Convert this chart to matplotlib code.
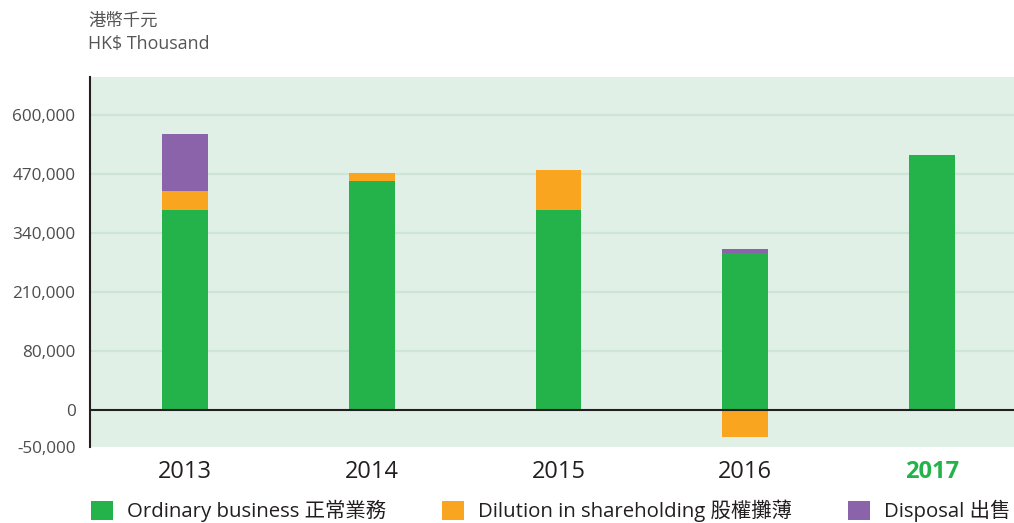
import matplotlib
matplotlib.use("Agg")
import matplotlib.pyplot as plt
from matplotlib.patches import Patch

plt.rcParams['font.family'] = ['Open Sans', 'Noto Sans CJK TC', 'DejaVu Sans']

years = ["2013", "2014", "2015", "2016", "2017"]
ordinary = [440700, 504600, 440700, 345900, 561900]
dilution = [41900, 17600, 88100, 0, 0]
dilution_neg = [0, 0, 0, -59500, 0]
disposal = [125600, 0, 0, 8800, 0]

series_names = ["Ordinary business 正常業務", "Dilution in shareholding 股權攤薄", "Disposal 出售"]
colors = ["#24b24b", "#f9a51f", "#8b63aa"]

ytick_pos = [-81500, 0, 130000, 260000, 390000, 520000, 650000]
ytick_labels = ["-50,000", "0", "80,000", "210,000", "340,000", "470,000", "600,000"]

W, H = 1014, 523
fig = plt.figure(figsize=(W / 100, H / 100), dpi=100)
ax = fig.add_axes([90 / W, (H - 447) / H, 937 / W, (447 - 77) / H])
ax.set_facecolor("#e1f0e6")

x = list(range(len(years)))
bw = 0.246
ax.bar(x, ordinary, bw, color=colors[0], zorder=3)
ax.bar(x, dilution, bw, bottom=ordinary, color=colors[1], zorder=3)
ax.bar(x, dilution_neg, bw, color=colors[1], zorder=3)
bottoms = [o + d for o, d in zip(ordinary, dilution)]
ax.bar(x, disposal, bw, bottom=bottoms, color=colors[2], zorder=3)

ax.set_xlim(-0.508, 4.508)
ax.set_ylim(-81500, 733700)
ax.set_yticks(ytick_pos)
ax.set_yticklabels(ytick_labels)
for gy in ytick_pos[2:]:
    ax.axhline(gy, color="#cde5d5", lw=1.6, zorder=1)
ax.axhline(0, color="#231f20", lw=1.5, zorder=4)

for s in ["top", "right", "bottom"]:
    ax.spines[s].set_visible(False)
ax.spines["left"].set_color("#231f20")
ax.spines["left"].set_linewidth(1.5)

ax.tick_params(axis="y", length=0, pad=10.5, labelsize=12.3, labelcolor="#4d4d4d")
ax.set_xticks(x)
ax.set_xticklabels(years)
ax.tick_params(axis="x", length=0, pad=9, labelsize=17, labelcolor="#231f20")
lbls = ax.get_xticklabels()
lbls[-1].set_color("#24b24b")
lbls[-1].set_fontweight("bold")

fig.text(88 / W, 1 - 22 / H, "港幣千元", fontsize=12.5, color="#555555", va="center", ha="left")
fig.text(88 / W, 1 - 44 / H, "HK$ Thousand", fontsize=12.8, color="#555555", va="center", ha="left")

handles = [Patch(facecolor=c, edgecolor="none") for c in colors]
fig.legend(handles, series_names, loc="center left", bbox_to_anchor=(91 / W, 1 - 511 / H),
           ncol=3, frameon=False, fontsize=14.7, handlelength=1.08, handleheight=1.08,
           handletextpad=0.68, columnspacing=2.75, borderaxespad=0, borderpad=0,
           labelcolor="#231f20")

fig.savefig("out.png", dpi=100)
